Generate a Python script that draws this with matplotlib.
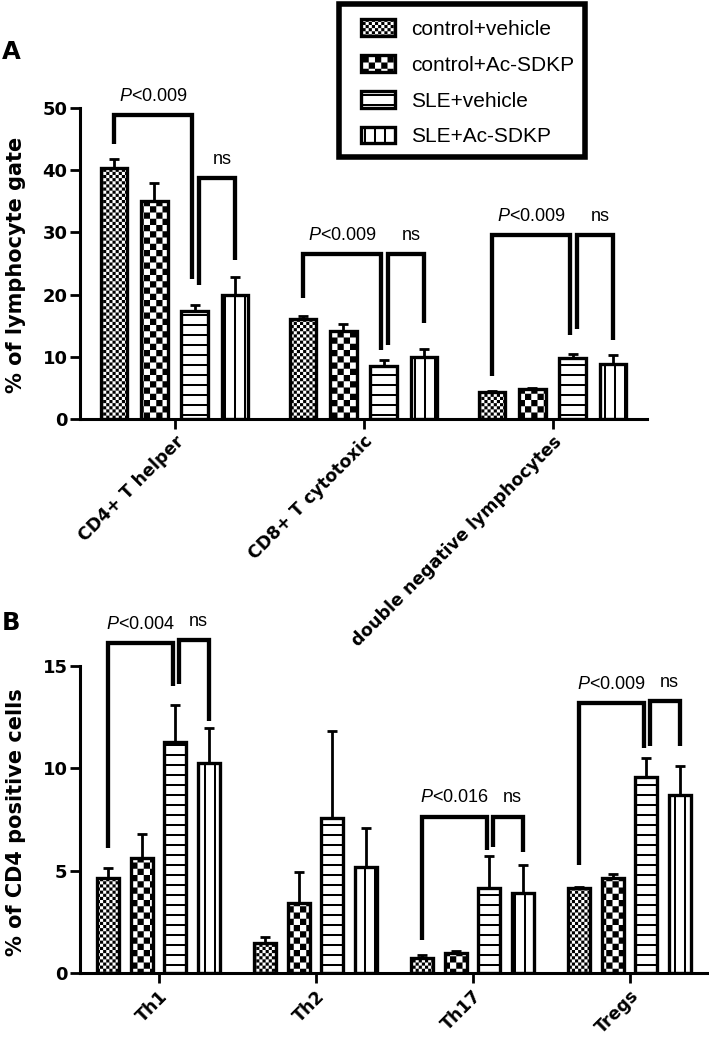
import numpy as np
import matplotlib
matplotlib.use("Agg")
import matplotlib.pyplot as plt
from matplotlib import hatch as mhatch
from matplotlib.path import Path
from matplotlib.patches import Rectangle
from matplotlib.transforms import ScaledTranslation

# ---------------- data ----------------
groups = ["control+vehicle", "control+Ac-SDKP", "SLE+vehicle", "SLE+Ac-SDKP"]

cats_a = ["CD4+ T helper", "CD8+ T cytotoxic", "double negative lymphocytes"]
a_ctrl_veh = [40.4, 16.0, 4.25]
a_ctrl_sdkp = [35.1, 14.1, 4.84]
a_sle_veh = [17.3, 8.45, 9.7]
a_sle_sdkp = [19.9, 9.9, 8.87]
a_sem_ctrl_veh = [1.4, 0.5, 0.15]
a_sem_ctrl_sdkp = [2.9, 1.1, 0.08]
a_sem_sle_veh = [1.0, 0.95, 0.8]
a_sem_sle_sdkp = [3.0, 1.4, 1.33]

cats_b = ["Th1", "Th2", "Th17", "Tregs"]
b_ctrl_veh = [4.63, 1.48, 0.72, 4.14]
b_ctrl_sdkp = [5.63, 3.40, 0.96, 4.63]
b_sle_veh = [11.3, 7.59, 4.17, 9.56]
b_sle_sdkp = [10.27, 5.16, 3.89, 8.70]
b_sem_ctrl_veh = [0.51, 0.29, 0.16, 0.08]
b_sem_ctrl_sdkp = [1.14, 1.55, 0.13, 0.19]
b_sem_sle_veh = [1.8, 4.25, 1.56, 0.93]
b_sem_sle_sdkp = [1.68, 1.94, 1.39, 1.41]

# significance brackets: (label, top, left-leg end, right-leg end)
a_p_labels = ["P<0.009", "P<0.009", "P<0.009"]
a_p_top = [48.9, 26.55, 29.6]
a_p_ends = [(44.2, 22.5), (19.4, 11.0), (6.8, 13.5)]
a_ns_top = [38.7, 26.55, 29.6]
a_ns_ends = [(21.5, 25.5), (11.8, 15.4), (14.5, 12.6)]

b_p_labels = ["P<0.004", None, "P<0.016", "P<0.009"]
b_p_top = [16.1, None, 7.64, 13.17]
b_p_ends = [(6.09, 14.02), None, (1.61, 6.01), (5.28, 10.98)]
b_ns_top = [16.27, None, 7.64, 13.3]
b_ns_ends = [(14.1, 12.3), None, (6.17, 5.93), (11.09, 11.09)]

# ---------------- custom fill patterns ----------------
class _Checker(mhatch.HatchPatternBase):
    char = "o"
    base = 8

    def __init__(self, hatch, density):
        k = hatch.count(self.char)
        self.n = 2 * ((k * self.base) // 2) if k else 0
        self.num_vertices = (self.n * self.n // 2) * 5 if self.n else 0

    def set_vertices_and_codes(self, vertices, codes):
        n = self.n
        s = 1.0 / n
        idx = 0
        for i in range(n):
            for j in range(n):
                if (i + j) % 2 == 0:
                    x0, y0 = i * s, j * s
                    vertices[idx:idx + 5] = [(x0, y0), (x0 + s, y0), (x0 + s, y0 + s),
                                             (x0, y0 + s), (x0, y0)]
                    codes[idx:idx + 5] = [Path.MOVETO, Path.LINETO, Path.LINETO,
                                          Path.LINETO, Path.CLOSEPOLY]
                    idx += 5


class _FineChecker(_Checker):
    char = "o"
    base = 8


class _CoarseChecker(_Checker):
    char = "O"
    base = 8


class _Stripes(mhatch.HatchPatternBase):
    char = "-"
    base = 10
    thick = 0.02
    horizontal = True

    def __init__(self, hatch, density):
        k = hatch.count(self.char)
        self.n = k * self.base if k else 0
        self.num_vertices = self.n * 5

    def set_vertices_and_codes(self, vertices, codes):
        n = self.n
        t = self.thick / 2
        for i in range(n):
            c = (i + 0.5) / n
            if self.horizontal:
                pts = [(0, c - t), (1, c - t), (1, c + t), (0, c + t), (0, c - t)]
            else:
                pts = [(c - t, 0), (c + t, 0), (c + t, 1), (c - t, 1), (c - t, 0)]
            vertices[i * 5:i * 5 + 5] = pts
            codes[i * 5:i * 5 + 5] = [Path.MOVETO, Path.LINETO, Path.LINETO,
                                      Path.LINETO, Path.CLOSEPOLY]


class _HStripes(_Stripes):
    char = "-"
    horizontal = True


class _VStripes(_Stripes):
    char = "|"
    horizontal = False


mhatch._hatch_types[:] = [_HStripes, _VStripes, _FineChecker, _CoarseChecker]

plt.rcParams["hatch.linewidth"] = 0.01
plt.rcParams["hatch.color"] = "black"
plt.rcParams["font.family"] = ["Liberation Sans", "DejaVu Sans"]
plt.rcParams["mathtext.fontset"] = "custom"
plt.rcParams["mathtext.it"] = "Liberation Sans:italic"
plt.rcParams["mathtext.rm"] = "Liberation Sans"

hatches = ["oooo", "OO", "-", "|"]
BOLD = ["DejaVu Sans"]

fig = plt.figure(figsize=(7.09, 10.42), dpi=100)
W, H = 709.0, 1042.0

ax_a = fig.add_axes([80 / W, 1 - 418.7 / H, 567 / W, 310.4 / H])
ax_b = fig.add_axes([80 / W, 1 - 973 / H, 628 / W, 307 / H])

offsets = np.array([-1.5, -0.5, 0.5, 1.5]) * 0.213
bar_w = 0.14


def draw_panel(ax, cats, means, sems, ymax, yticks, ylabel, label_dx):
    x = np.arange(len(cats))
    bars = []
    for k in range(4):
        b = ax.bar(x + offsets[k], means[k], bar_w, color="white", edgecolor="black",
                   linewidth=2.4, hatch=hatches[k], zorder=2, label=groups[k])
        ax.errorbar(x + offsets[k], means[k], yerr=[np.zeros(len(cats)), sems[k]],
                    fmt="none", ecolor="black", elinewidth=2.0, capsize=3.8,
                    capthick=2.0, zorder=3)
        bars.append(b)
    ax.set_xlim(-0.5, len(cats) - 0.5)
    ax.set_ylim(0, ymax)
    ax.set_yticks(yticks)
    ax.set_xticks(x)
    ax.set_yticklabels([str(t) for t in yticks], fontsize=13, fontweight="bold", family=BOLD)
    ax.set_xticklabels(cats, rotation=45, ha="right", va="top", rotation_mode="anchor",
                       fontsize=12.5, fontweight="bold", family=BOLD)
    for lab in ax.get_xticklabels():
        lab.set_transform(lab.get_transform() + ScaledTranslation(label_dx / 100.0, 0,
                                                                   fig.dpi_scale_trans))
    for s in ["top", "right"]:
        ax.spines[s].set_visible(False)
    for s in ["left", "bottom"]:
        ax.spines[s].set_linewidth(2.2)
    ax.tick_params(axis="both", direction="out", length=7, width=2.0, pad=2)
    ax.tick_params(axis="x", pad=3)
    ax.set_ylabel(ylabel, fontsize=15, fontweight="bold", family=BOLD)
    return x, bars


def bracket(ax, xl, xr, yl, ytop, yr):
    ax.plot([xl, xl, xr, xr], [yl, ytop, ytop, yr], color="black", lw=3.1,
            solid_joinstyle="miter", solid_capstyle="butt", clip_on=False, zorder=4)


def annotate_panel(ax, x, p_labels, p_top, p_ends, ns_top, ns_ends):
    for i in range(len(x)):
        if p_labels[i] is None:
            continue
        c1 = x[i] + offsets[0]
        c3 = x[i] + offsets[2]
        c4 = x[i] + offsets[3]
        pl, pr = c1, c3 - 0.012
        nl, nr = c3 + 0.025, c4
        bracket(ax, pl, pr, p_ends[i][0], p_top[i], p_ends[i][1])
        bracket(ax, nl, nr, ns_ends[i][0], ns_top[i], ns_ends[i][1])
        txt = p_labels[i].replace("P", r"$\mathit{P}$", 1)
        ax.annotate(txt, xy=((pl + pr) / 2, p_top[i]), xytext=(0, 13.5),
                    textcoords="offset points", ha="center", va="center",
                    fontsize=13, annotation_clip=False)
        ax.annotate("ns", xy=((nl + nr) / 2 + 0.03, ns_top[i]), xytext=(0, 13.5),
                    textcoords="offset points", ha="center", va="center",
                    fontsize=13, annotation_clip=False)


x_a, bars_a = draw_panel(ax_a, cats_a,
                         [a_ctrl_veh, a_ctrl_sdkp, a_sle_veh, a_sle_sdkp],
                         [a_sem_ctrl_veh, a_sem_ctrl_sdkp, a_sem_sle_veh, a_sem_sle_sdkp],
                         50, [0, 10, 20, 30, 40, 50], "% of lymphocyte gate", 3)
annotate_panel(ax_a, x_a, a_p_labels, a_p_top, a_p_ends, a_ns_top, a_ns_ends)

x_b, bars_b = draw_panel(ax_b, cats_b,
                         [b_ctrl_veh, b_ctrl_sdkp, b_sle_veh, b_sle_sdkp],
                         [b_sem_ctrl_veh, b_sem_ctrl_sdkp, b_sem_sle_veh, b_sem_sle_sdkp],
                         15, [0, 5, 10, 15], "% of CD4 positive cells", 12)
annotate_panel(ax_b, x_b, b_p_labels, b_p_top, b_p_ends, b_ns_top, b_ns_ends)

ax_a.yaxis.set_label_coords(-0.095, 0.495)
ax_b.yaxis.set_label_coords(-0.086, 0.493)

# legend
fig.legend(handles=bars_a, labels=groups, loc="upper left",
           bbox_to_anchor=(360.7 / W, 1 - 19.5 / H), frameon=False, fontsize=15,
           handlelength=1.67, handleheight=0.85, handletextpad=0.75, labelspacing=0.78,
           borderpad=0, borderaxespad=0)
fig.patches.append(Rectangle((339 / W, 1 - 157 / H), 246 / W, 153 / H,
                             transform=fig.transFigure, fill=False,
                             edgecolor="black", linewidth=4.0))

fig.text(11 / W, 1 - 51.7 / H, "A", fontsize=17.5, fontweight="bold", family=BOLD,
         ha="center", va="center")
fig.text(11 / W, 1 - 623.5 / H, "B", fontsize=17.5, fontweight="bold", family=BOLD,
         ha="center", va="center")

fig.savefig("out.png", dpi=100)
